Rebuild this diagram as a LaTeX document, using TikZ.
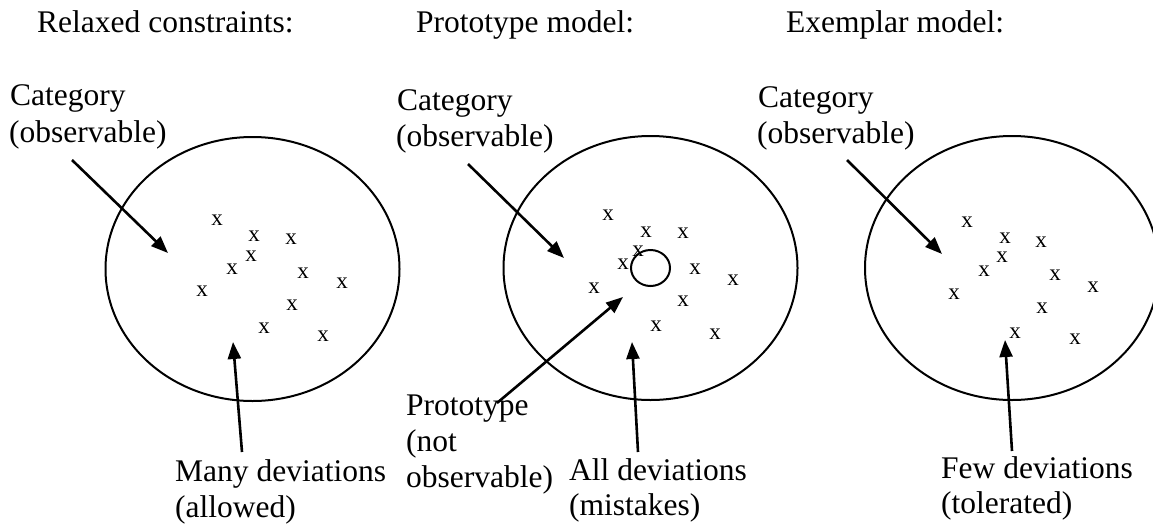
\documentclass[tikz,border=0pt]{standalone}
\usepackage{fontspec}
\setmainfont{Liberation Serif}
\usetikzlibrary{arrows.meta,shapes.geometric}
\begin{document}
\begin{tikzpicture}[x=1pt,y=-1pt,
  lbl/.style={anchor=base west,inner sep=0pt,font=\fontsize{31.5}{36}\selectfont},
  mk/.style={inner sep=0pt,font=\fontsize{23}{26}\selectfont},
  cat/.style={draw,ellipse,line width=2pt,inner sep=0pt,minimum width=294pt,minimum height=264pt},
  proto/.style={draw,ellipse,line width=2pt,inner sep=0pt,minimum width=39pt,minimum height=36pt},
  arr/.style={line width=2.6pt,-{Triangle[length=17pt,width=13pt]}}]
\useasboundingbox (0,0) rectangle (1153,525);

% titles
\node[lbl] (t1) at (37,32) {Relaxed constraints:};
\node[lbl] (t2) at (416,32) {Prototype model:};
\node[lbl] (t3) at (786,32) {Exemplar model:};

% ellipses
\node[cat] (e1) at (252.5,269) {};
\node[cat] (e2) at (650.5,268) {};
\node[cat] (e3) at (1012,268) {};
\node[proto] (p2) at (650.5,268) {};

% category labels
\node[lbl] (c1a) at (10,105.5) {Category};
\node[lbl] (c1b) at (9,142) {(observable)};
\node[lbl] (c2a) at (397,110) {Category};
\node[lbl] (c2b) at (396,146.5) {(observable)};
\node[lbl] (c3a) at (758,107) {Category};
\node[lbl] (c3b) at (757,143.5) {(observable)};

% bottom labels
\node[lbl] (b1a) at (175,481) {Many deviations};
\node[lbl] (b1b) at (175,517) {(allowed)};
\node[lbl] (pa) at (406,415) {Prototype};
\node[lbl] (pb) at (406,451) {(not};
\node[lbl] (pc) at (406,487) {observable)};
\node[lbl] (b2a) at (569,480) {All deviations};
\node[lbl] (b2b) at (569,515) {(mistakes)};
\node[lbl] (b3a) at (941,478) {Few deviations};
\node[lbl] (b3b) at (941,513) {(tolerated)};

% marks panel 1
\foreach \px/\py [count=\i] in {217/220,254/236,291/239,251/256,232/269,303/273,342/283,202/291,292/305,264/328,323/336}
  \node[mk] (m1-\i) at (\px,\py) {x};
% marks panel 2
\foreach \px/\py [count=\i] in {608/215,646/232,683/233,638/251,623/264,695/269,733/280,594/288,683/301,656/326,715/334}
  \node[mk] (m2-\i) at (\px,\py) {x};
% marks panel 3
\foreach \px/\py [count=\i] in {967/222,1005/238,1041/242,1002/257,984/271,1055/275,1093/287,954/294,1042/308,1015/333,1075/339}
  \node[mk] (m3-\i) at (\px,\py) {x};

% arrow end points
\coordinate (a1s) at (72,160);   \coordinate (a1e) at (168,253);
\coordinate (d1s) at (242,452);  \coordinate (d1e) at (233,342);
\coordinate (a2s) at (468,164);  \coordinate (a2e) at (564,258);
\coordinate (q2s) at (497,403);  \coordinate (q2e) at (623,297);
\coordinate (d2s) at (638,452);  \coordinate (d2e) at (632,342);
\coordinate (a3s) at (847,160);  \coordinate (a3e) at (942,254);
\coordinate (d3s) at (1012,451); \coordinate (d3e) at (1005,340);

\draw[arr] (a1s) -- (a1e);
\draw[arr] (d1s) -- (d1e);
\draw[arr] (a2s) -- (a2e);
\draw[arr] (q2s) -- (q2e);
\draw[arr] (d2s) -- (d2e);
\draw[arr] (a3s) -- (a3e);
\draw[arr] (d3s) -- (d3e);
\end{tikzpicture}
\end{document}
